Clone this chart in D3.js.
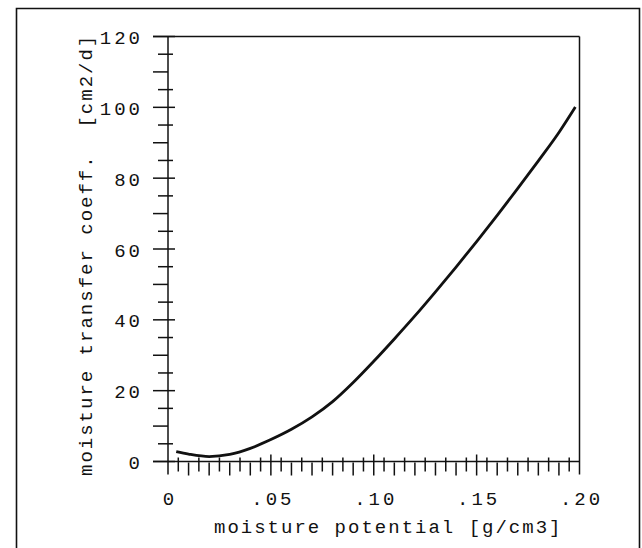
<!DOCTYPE html>
<html>
<head>
<meta charset="utf-8">
<script src="https://cdn.jsdelivr.net/npm/d3@7"></script>
<style>
  body { margin: 0; background: #fff; }
  text { font-family: "Liberation Mono", "Courier New", monospace; font-size: 19px; letter-spacing: 2px; fill: #111; }
  .ylab, .xlab { letter-spacing: 3px; }
</style>
</head>
<body>
<div id="chart"></div>
<script>
// curve
const potential = [0.004, 0.01, 0.02, 0.03, 0.04, 0.05, 0.06, 0.07, 0.08, 0.09, 0.10, 0.11, 0.12, 0.13, 0.14, 0.15, 0.16, 0.17, 0.18, 0.19, 0.198];
const coeff = [2.8, 2.1, 1.4, 2.0, 3.7, 6.2, 9.1, 12.6, 16.9, 22.3, 28.3, 34.6, 41.1, 47.9, 54.9, 62.1, 69.5, 77.1, 84.9, 92.9, 100.1];
const xTickLabels = ['0', '.05', '.10', '.15', '.20'];
const yTickValues = [0, 20, 40, 60, 80, 100, 120];

const data = potential.map((p, i) => ({x: p, y: coeff[i]}));

const width = 642, height = 548;
const svg = d3.select('#chart').append('svg')
    .attr('width', width)
    .attr('height', height);

// outer frame (bottom runs off the page)
svg.append('path')
    .attr('d', 'M16.5,560 V8.5 H639.5 V560')
    .attr('fill', 'none')
    .attr('stroke', '#111')
    .attr('stroke-width', 1.6);

const x = d3.scaleLinear().domain([0, 0.2]).range([168, 579.5]);
const y = d3.scaleLinear().domain([0, 120]).range([461.5, 36.5]);

const g = svg.append('g').attr('stroke', '#111').attr('stroke-width', 1.5);

// plot box: top, right, left axis, bottom axis
g.append('line').attr('x1', 153).attr('x2', x(0.2)).attr('y1', y(120)).attr('y2', y(120));
g.append('line').attr('x1', x(0.2)).attr('x2', x(0.2)).attr('y1', y(120)).attr('y2', y(0) + 13);
g.append('line').attr('x1', x(0)).attr('x2', x(0)).attr('y1', y(120)).attr('y2', y(0) + 13);
g.append('line').attr('x1', 153).attr('x2', x(0.2)).attr('y1', y(0)).attr('y2', y(0));

// y ticks every 5
d3.range(0, 121, 5).forEach(v => {
  let x1, x2;
  if (v % 20 === 0) { x1 = -15; x2 = 7; }
  else if (v % 10 === 0) { x1 = -15; x2 = 0; }
  else { x1 = -10; x2 = 5; }
  g.append('line')
      .attr('x1', x(0) + x1).attr('x2', x(0) + x2)
      .attr('y1', y(v)).attr('y2', y(v));
});

// x ticks every .005
d3.range(1, 40).forEach(i => {
  const v = i * 0.005;
  let y1, y2;
  if (i % 10 === 0) { y1 = -7; y2 = 14; }
  else if (i % 2 === 0) { y1 = 1; y2 = 14; }
  else { y1 = -4; y2 = 10; }
  g.append('line')
      .attr('x1', x(v)).attr('x2', x(v))
      .attr('y1', y(0) + y1).attr('y2', y(0) + y2);
});

// tick labels
svg.selectAll('.ylab')
  .data(yTickValues)
  .enter().append('text')
    .attr('class', 'ylab')
    .attr('x', 143)
    .attr('y', d => y(d))
    .attr('dy', '0.4em')
    .attr('text-anchor', 'end')
    .text(d => d);

svg.selectAll('.xlab')
  .data(xTickLabels)
  .enter().append('text')
    .attr('class', 'xlab')
    .attr('x', (d, i) => x(i * 0.05) + 2)
    .attr('y', 505)
    .attr('text-anchor', 'middle')
    .text(d => d);

// axis titles
svg.append('text')
    .attr('x', 214)
    .attr('y', 533)
    .text('moisture potential [g/cm3]');

svg.append('text')
    .attr('transform', 'translate(92,476) rotate(-90)')
    .attr('xml:space', 'preserve')
    .style('white-space', 'pre')
    .text('moisture transfer coeff.  [cm2/d]');

// the curve
const line = d3.line()
    .x(d => x(d.x))
    .y(d => y(d.y))
    .curve(d3.curveMonotoneX);

svg.append('path')
    .datum(data)
    .attr('d', line)
    .attr('fill', 'none')
    .attr('stroke', '#111')
    .attr('stroke-width', 2.8);
</script>
</body>
</html>
